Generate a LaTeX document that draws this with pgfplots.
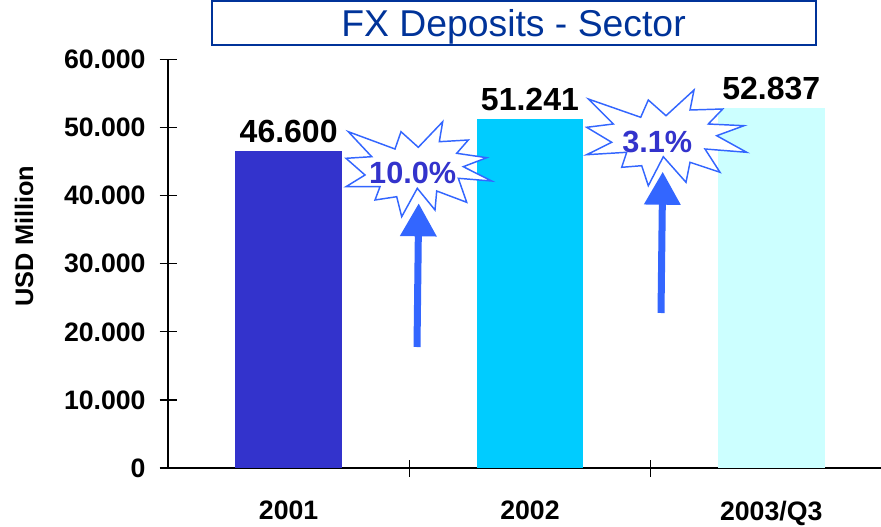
\documentclass[border=0pt]{standalone}
\usepackage{fontspec}
\setmainfont{Liberation Sans}
\usepackage{pgfplots}
\pgfplotsset{compat=1.18}
\usetikzlibrary{arrows.meta}
\definecolor{barA}{HTML}{3333CC}
\definecolor{barB}{HTML}{00CCFF}
\definecolor{barC}{HTML}{CCFFFF}
\definecolor{starline}{HTML}{3366FF}
\definecolor{titleblue}{HTML}{003399}
\begin{document}
\begin{tikzpicture}[x=0.75pt,y=0.75pt]
\useasboundingbox (0,0) rectangle (881,526);
\clip (0,0) rectangle (881,526);
\begin{axis}[
  at={(126pt,43.5pt)}, anchor=south west,
  scale only axis, width=534.75pt, height=306.4pt,
  xmin=-0.5, xmax=2.455, ymin=0, ymax=60000,
  axis lines=left, axis line style={-, line width=1pt},
  ybar, bar width=0.442, bar shift=0pt,
  xtick={0,1,2}, xticklabels={2001,2002,2003/Q3},
  minor xtick={0.5,1.5},
  ytick={0,10000,20000,30000,40000,50000,60000},
  tick align=center, major tick length=12.75pt, minor tick length=12.75pt,
  every tick/.append style={black, line width=1pt},
  every major x tick/.append style={draw=none},
  scaled y ticks=false,
  /pgf/number format/1000 sep={.},
  /pgf/number format/assume math mode=true,
  yticklabel style={font=\fontsize{20}{24}\selectfont\bfseries, anchor=east, inner sep=0pt, xshift=-10.25pt},
  xticklabel style={font=\fontsize{20}{24}\selectfont\bfseries, anchor=north, inner sep=0pt, yshift=-18.3pt},
  ylabel={USD Million},
  ylabel style={at={(axis description cs:-0.202,0.568)}, anchor=center, font=\fontsize{19}{23}\selectfont\bfseries},
  title={FX Deposits - Sector},
  title style={at={(axis description cs:0.4846,1.069)}, anchor=center, draw=titleblue, line width=1.5pt, minimum width=453pt, minimum height=33pt, text=titleblue, font=\fontsize{28}{32}\selectfont, inner sep=0pt, text depth=0pt},
  nodes near coords,
  nodes near coords style={font=\fontsize{24}{28}\selectfont\bfseries, text=black, anchor=south, inner sep=0pt, yshift=6pt},
]
\addplot[fill=barA, draw=none] coordinates {(0,46600)};
\addplot[fill=barB, draw=none] coordinates {(1,51241)};
\addplot[fill=barC, draw=none] coordinates {(2,52837)};
\end{axis}
% starburst 1
\draw[starline, line width=1.1pt, fill=white, line join=miter]
 (348.3,394.3) -- (395,377) -- (401,394.3) -- (418.3,378.7) -- (442.7,404.3) -- (439.3,384.3)
 -- (468.3,386) -- (456.7,372.7) -- (486.7,368.3) -- (463.3,359.3) -- (491.7,345) -- (458.3,347.7)
 -- (466.7,323.7) -- (436.7,335) -- (435,316) -- (417.3,337.7) -- (401.7,309.3) -- (396.7,329.3)
 -- (375,326) -- (380,339.3) -- (346,339.3) -- (365,351) -- (346,367.7) -- (371.7,369.3) -- cycle;
% starburst 2
\draw[starline, line width=1.1pt, fill=white, line join=miter]
 (588.3,427) -- (640.7,408.7) -- (648.3,426) -- (666,410.3) -- (694,436) -- (690,416)
 -- (722.7,417) -- (708.3,402) -- (744,400.3) -- (716.7,390.3) -- (746.7,373.7) -- (705,377)
 -- (720,353.7) -- (690,363.7) -- (686,343.7) -- (663.3,369.3) -- (648.3,340.3) -- (641.7,360.3)
 -- (621.7,358.7) -- (626.7,373.7) -- (586.7,371.3) -- (611.7,383.7) -- (586.7,398.7) -- (613.3,402) -- cycle;
% arrows
\draw[starline, line width=5.25pt, -{Triangle[length=24.75pt, width=26.25pt]}] (417,179) -- (418.7,322.7);
\draw[starline, line width=5.25pt, -{Triangle[length=24.75pt, width=26.25pt]}] (661,213) -- (662.7,354.3);
% labels
\node[anchor=base, text=barA, font=\fontsize{23}{27}\selectfont\bfseries, inner sep=0pt] at (412.7,342.7) {10.0\%};
\node[anchor=base, text=barA, font=\fontsize{23}{27}\selectfont\bfseries, inner sep=0pt] at (657.3,373.7) {3.1\%};
\end{tikzpicture}
\end{document}
